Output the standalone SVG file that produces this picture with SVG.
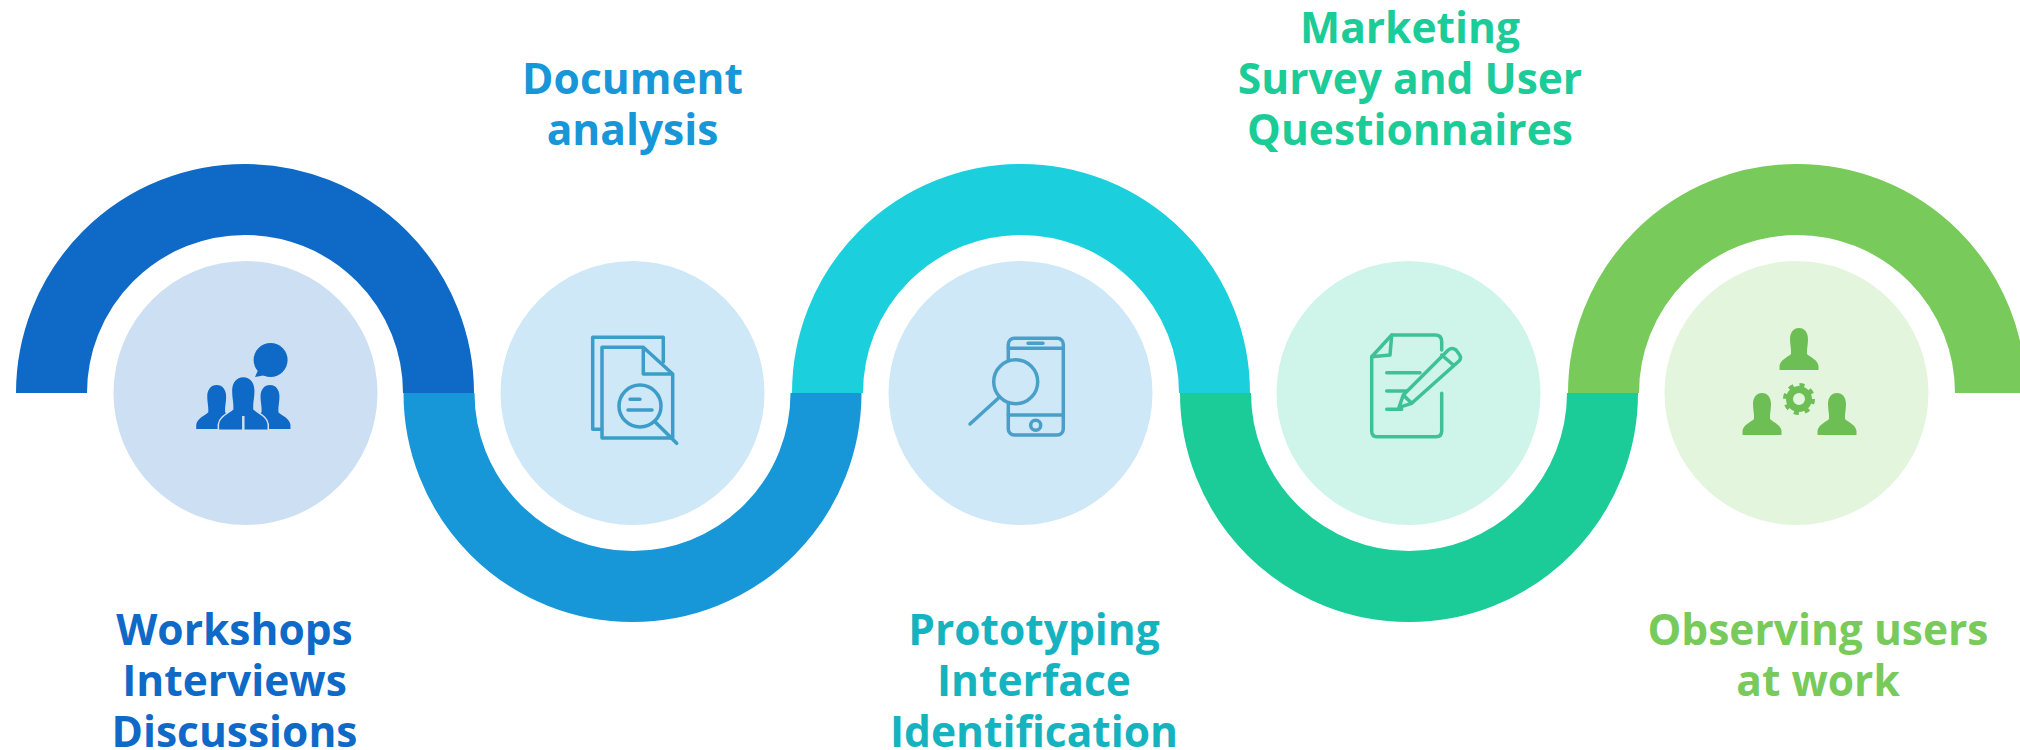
<svg xmlns="http://www.w3.org/2000/svg" xmlns:xlink="http://www.w3.org/1999/xlink" width="2020" height="750" viewBox="0 0 2020 750">
<style>
.arc{fill:none;stroke-width:71}
.lbl{font-family:"Open Sans","Liberation Sans",sans-serif;font-weight:700;font-size:42.500px;text-anchor:middle}
.ln{fill:none;stroke-width:3.500;stroke-linecap:round;stroke-linejoin:round}
</style>
<defs>
<path id="person" d="M0 0C5.500 0 9 4.500 9 11C9 16 8 20 8 23L8 26C11 29 19 32 19.500 38V42H-19.500V38C-19 32 -11 29 -8 26L-8 23C-8 20 -9 16 -9 11C-9 4.500 -5.500 0 0 0Z"/>
</defs>
<rect width="2020" height="750" fill="#ffffff"/>
<g id="connectors">
<path class="arc" stroke="#0f69c6" d="M51.500 393A193.500 193.500 0 0 1 438.500 393"/>
<path class="arc" stroke="#1796d8" d="M439 393A193.500 193.500 0 0 0 826 393"/>
<path class="arc" stroke="#1ccfdd" d="M827.500 393A193.500 193.500 0 0 1 1214.500 393"/>
<path class="arc" stroke="#1bcb98" d="M1215.500 393A193.500 193.500 0 0 0 1602.500 393"/>
<path class="arc" stroke="#78ca5a" d="M1603.500 393A193.500 193.500 0 0 1 1990.500 393"/>
</g>
<g id="node-workshops">
<circle cx="245.500" cy="393" r="132" fill="#cde0f3"/>
<g fill="#0f69c6">
<circle cx="270.600" cy="360" r="17"/>
<path d="M255 377L259 368L266 375Z"/>
<use xlink:href="#person" href="#person" transform="translate(216.700 385) scale(1.050)"/>
<use xlink:href="#person" href="#person" transform="translate(270 385) scale(1.050)"/>
<use xlink:href="#person" href="#person" transform="translate(243.300 377.300) scale(1.240)" stroke="#cde0f3" stroke-width="2.500" paint-order="stroke"/>
</g>
<path d="M243.300 416V430" stroke="#cde0f3" stroke-width="2.500" fill="none"/>
<text class="lbl" fill="#0f69c6"><tspan x="234.500" y="645">Workshops</tspan><tspan x="234.500" y="696">Interviews</tspan><tspan x="234.500" y="746.500">Discussions</tspan></text>
</g>
<g id="node-document">
<circle cx="632.500" cy="393" r="132" fill="#cfe8f7"/>
<g class="ln" stroke="#3c9dc9">
<path d="M601.700 429.300H592.700V337.300H663.300V362"/>
<path d="M643.300 347.300H602V438H672.700V374L643.300 347.300V374H672.700"/>
<circle cx="640" cy="406" r="21"/>
<path d="M655 421.700L676.700 443.300M630 399.300H640M628 410H652"/>
</g>
<text class="lbl" fill="#1796d8"><tspan x="632.500" y="93.500">Document</tspan><tspan x="632.500" y="145">analysis</tspan></text>
</g>
<g id="node-prototyping">
<circle cx="1020.500" cy="393" r="132" fill="#cfe8f7"/>
<g class="ln" stroke="#4a9fc9">
<rect x="1008.300" y="338.300" width="55" height="96.700" rx="6"/>
<path d="M1008.300 348.300H1063.300M1008.300 415H1063.300M1028 343.300H1043"/>
<circle cx="1035.700" cy="425.300" r="5"/>
<circle cx="1015.700" cy="381.700" r="22" fill="#cfe8f7"/>
<path d="M998.300 398.300L970 424"/>
</g>
<text class="lbl" fill="#15b3bf"><tspan x="1034" y="645">Prototyping</tspan><tspan x="1034" y="696">Interface</tspan><tspan x="1034" y="746.500">Identification</tspan></text>
</g>
<g id="node-marketing">
<circle cx="1408.500" cy="393" r="132" fill="#cff5ea"/>
<g class="ln" stroke="#3fc196">
<path d="M1441.700 350V341.700Q1441.700 335 1435 335H1391.700L1371.700 356.700V431Q1371.700 436.700 1377 436.700H1436Q1441.700 436.700 1441.700 431V393.300"/>
<path d="M1391.700 335L1390 355L1371.700 356.700"/>
<path d="M1386.700 372.700H1420M1386.700 391H1406.700M1386.700 409.300H1401.700"/>
<path d="M1399 407.300L1403.300 395L1448.300 350Q1452 347 1456 350L1459 354Q1462 358 1459 361L1411.700 403.300ZM1441.700 355L1453.300 365M1403.300 395L1411.700 403.300"/>
</g>
<text class="lbl" fill="#1bcb98"><tspan x="1410" y="42.500">Marketing</tspan><tspan x="1410" y="93.500">Survey and User</tspan><tspan x="1410" y="145">Questionnaires</tspan></text>
</g>
<g id="node-observing">
<circle cx="1796.500" cy="393" r="132" fill="#e4f5dd"/>
<g fill="#6dbf55">
<use xlink:href="#person" href="#person" transform="translate(1799 328)"/>
<use xlink:href="#person" href="#person" transform="translate(1762 393)"/>
<use xlink:href="#person" href="#person" transform="translate(1837 393)"/>
</g>
<circle cx="1799" cy="399" r="9.500" fill="none" stroke="#6dbf55" stroke-width="7"/>
<circle cx="1799" cy="399" r="14" fill="none" stroke="#6dbf55" stroke-width="4" stroke-dasharray="5 6"/>
<text class="lbl" fill="#78ca5a"><tspan x="1818" y="645">Observing users</tspan><tspan x="1818" y="696">at work</tspan></text>
</g>
</svg>
